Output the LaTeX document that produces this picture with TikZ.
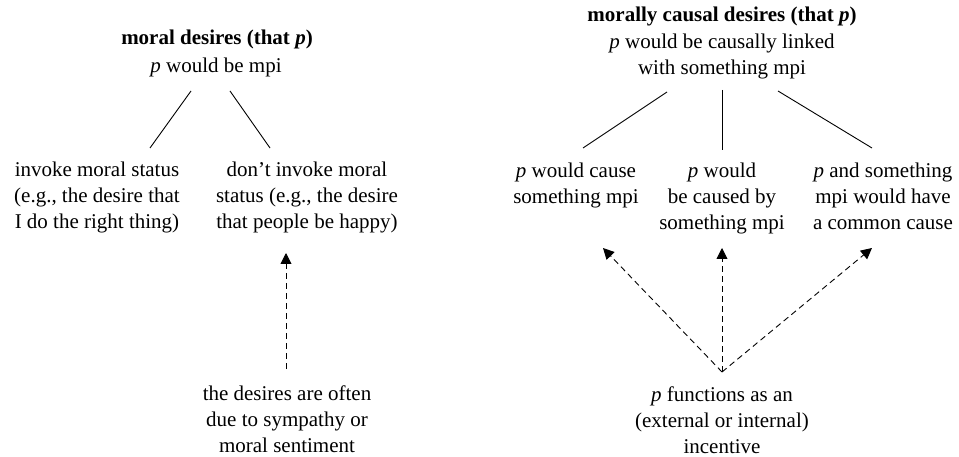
\documentclass[tikz,border=0pt]{standalone}
\usepackage{fontspec}
\setmainfont{Liberation Serif}
\usetikzlibrary{arrows.meta}
\begin{document}
\begin{tikzpicture}[x=1pt,y=-1pt,
  txt/.style={font=\fontsize{21}{26}\selectfont, align=center, anchor=base, inner sep=0pt},
  branch/.style={line width=0.9pt},
  incline/.style={line width=0.9pt, dash pattern=on 6pt off 4pt, -{Triangle[length=11pt,width=11pt]}}]
\useasboundingbox (0,0) rectangle (959,457);
% left tree (base anchor = baseline of the last line)
\node[txt] (lt) at (217,45) {\textbf{moral desires (that \textit{p})}};
\node[txt] (ls) at (216,73) {\textit{p} would be mpi};
\node[txt] (la) at (97,229) {invoke moral status\\(e.g., the desire that\\I do the right thing)};
\node[txt] (lb) at (307,229) {don’t invoke moral\\status (e.g., the desire\\that people be happy)};
\node[txt] (lc) at (287,452) {the desires are often\\due to sympathy or\\moral sentiment};
\coordinate (ls1) at (191,91);
\coordinate (ls2) at (230,91);
\coordinate (la1) at (150,148);
\coordinate (lb1) at (270,148);
\coordinate (lc1) at (286,369);
\coordinate (lb2) at (286,253);
\draw[branch] (ls1) -- (la1);
\draw[branch] (ls2) -- (lb1);
\draw[incline] (lc1) -- (lb2);
% right tree
\node[txt] (rt) at (722,22) {\textbf{morally causal desires (that \textit{p})}};
\node[txt] (rs) at (722,75) {\textit{p} would be causally linked\\with something mpi};
\node[txt] (ra) at (576,204) {\textit{p} would cause\\something mpi};
\node[txt] (rb) at (722,230) {\textit{p} would\\be caused by\\something mpi};
\node[txt] (rc) at (883,230) {\textit{p} and something\\mpi would have\\a common cause};
\node[txt] (rd) at (722,453) {\textit{p} functions as an\\(external or internal)\\incentive};
\coordinate (rs1) at (667,92);
\coordinate (rs2) at (722,90);
\coordinate (rs3) at (778,91);
\coordinate (ra1) at (583,148);
\coordinate (rb1) at (722,150);
\coordinate (rc1) at (872,148);
\coordinate (rd1) at (722,372);
\coordinate (ra2) at (603,248);
\coordinate (rb2) at (722,248);
\coordinate (rc2) at (872,248);
\draw[branch] (rs1) -- (ra1);
\draw[branch] (rs2) -- (rb1);
\draw[branch] (rs3) -- (rc1);
\draw[incline] (rd1) -- (ra2);
\draw[incline] (rd1) -- (rb2);
\draw[incline] (rd1) -- (rc2);
\end{tikzpicture}
\end{document}
